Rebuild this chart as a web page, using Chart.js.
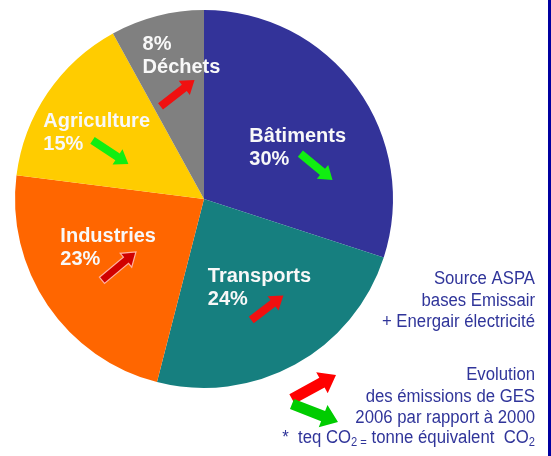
<!DOCTYPE html>
<html>
<head>
<meta charset="utf-8">
<script src="https://cdn.jsdelivr.net/npm/chart.js@4.4.1/dist/chart.umd.min.js"></script>
<style>
  html, body { margin: 0; padding: 0; background: #fff; }
  canvas { display: block; }
</style>
</head>
<body>
<canvas id="ges" width="551" height="456"></canvas>
<script>
// data
const sectors = ['Bâtiments', 'Transports', 'Industries', 'Agriculture', 'Déchets'];
const shares = [30, 24, 23, 15, 8];
// evolution 2006 vs 2000 : 'up' = rising (red), 'down' = falling (green)
const trends = ['down', 'up', 'up', 'down', 'up'];
const sourceLines = ['Source ASPA', 'bases Emissair', '+ Energair électricité'];
const evolutionLines = ['Evolution', 'des émissions de GES', '2006 par rapport à 2000'];

const sliceColors = ['#333399', '#167f7f', '#ff6600', '#ffcc00', '#808080'];

// label / arrow placement, as fractions of the pie radius from its centre
// lx,ly = start of first text line (baseline), ax..by = arrow tail -> head
const labelPlace = [
  { lx: 0.24, ly: -0.30, ax: 0.51, ay: -0.24, bx: 0.68, by: -0.10, pctFirst: false },
  { lx: 0.02, ly: 0.44, ax: 0.25, ay: 0.64, bx: 0.42, by: 0.51, pctFirst: false },
  { lx: -0.76, ly: 0.23, ax: -0.54, ay: 0.43, bx: -0.36, by: 0.28, pctFirst: false, dark: true },
  { lx: -0.85, ly: -0.38, ax: -0.59, ay: -0.31, bx: -0.40, by: -0.185, pctFirst: false },
  { lx: -0.325, ly: -0.79, ax: -0.23, ay: -0.49, bx: -0.05, by: -0.63, pctFirst: true }
];

function drawArrow(ctx, x1, y1, x2, y2, shaft, head, headLen, fill, stroke) {
  const ang = Math.atan2(y2 - y1, x2 - x1);
  const len = Math.hypot(x2 - x1, y2 - y1);
  ctx.save();
  ctx.translate(x1, y1);
  ctx.rotate(ang);
  ctx.beginPath();
  ctx.moveTo(0, -shaft / 2);
  ctx.lineTo(len - headLen, -shaft / 2);
  ctx.lineTo(len - headLen, -head / 2);
  ctx.lineTo(len, 0);
  ctx.lineTo(len - headLen, head / 2);
  ctx.lineTo(len - headLen, shaft / 2);
  ctx.lineTo(0, shaft / 2);
  ctx.closePath();
  ctx.fillStyle = fill;
  ctx.fill();
  if (stroke) {
    ctx.lineWidth = 1.2;
    ctx.strokeStyle = stroke;
    ctx.stroke();
  }
  ctx.restore();
}

// slightly condensed text, like the narrow font of the original
const SQUEEZE = 0.93;
function narrowText(ctx, t, xRight, y) {
  ctx.save();
  ctx.translate(xRight, y);
  ctx.scale(SQUEEZE, 1);
  ctx.fillText(t, 0, 0);
  ctx.restore();
}

const decorations = {
  id: 'decorations',
  afterDraw(chart) {
    const ctx = chart.ctx;
    const arc = chart.getDatasetMeta(0).data[0];
    const cx = arc.x, cy = arc.y, r = arc.outerRadius;

    ctx.save();
    // slice labels + trend arrows
    ctx.font = 'bold 20px "Liberation Sans", Arial, sans-serif';
    ctx.textAlign = 'left';
    ctx.textBaseline = 'alphabetic';
    sectors.forEach((name, i) => {
      const p = labelPlace[i];
      const x = cx + p.lx * r, y = cy + p.ly * r;
      const pct = shares[i] + '%';
      const lines = p.pctFirst ? [pct, name] : [name, pct];
      ctx.fillStyle = '#f8f8f8';
      ctx.fillText(lines[0], x, y);
      ctx.fillText(lines[1], x, y + 23);
      const up = trends[i] === 'up';
      const col = up ? (p.dark ? '#d00000' : '#f01010') : '#11ee11';
      drawArrow(ctx, cx + p.ax * r, cy + p.ay * r, cx + p.bx * r, cy + p.by * r,
        8, 18, 13, col, p.dark ? '#ffb0a0' : null);
    });

    // notes on the right
    const blue = '#30359a';
    const right = 535;
    ctx.fillStyle = blue;
    ctx.textAlign = 'right';
    ctx.font = '18px "Liberation Sans", Arial, sans-serif';
    sourceLines.forEach((t, i) => narrowText(ctx, t, right, 284 + i * 21.5));
    evolutionLines.forEach((t, i) => narrowText(ctx, t, right, 380 + i * 21.5));

    // legend arrows
    drawArrow(ctx, 292, 399, 336, 375, 11, 24, 16, '#ff0000', null);
    drawArrow(ctx, 292, 404, 338, 422, 11, 24, 16, '#00cc00', null);

    // footnote with subscripts
    const big = '18px "Liberation Sans", Arial, sans-serif';
    const small = '12px "Liberation Sans", Arial, sans-serif';
    const parts = [
      ['*  teq CO', big, 0], ['2 =', small, 3], [' tonne équivalent  CO', big, 0], ['2', small, 3]
    ];
    let w = 0;
    parts.forEach(([t, f]) => { ctx.font = f; w += ctx.measureText(t).width; });
    ctx.save();
    ctx.translate(right - w * SQUEEZE, 443);
    ctx.scale(SQUEEZE, 1);
    ctx.textAlign = 'left';
    let x = 0;
    parts.forEach(([t, f, dy]) => {
      ctx.font = f;
      ctx.fillText(t, x, dy);
      x += ctx.measureText(t).width;
    });
    ctx.restore();

    // frame edge on the right
    ctx.fillStyle = '#0000a0';
    ctx.fillRect(548, 0, 3, chart.height);
    ctx.restore();
  }
};

new Chart(document.getElementById('ges'), {
  type: 'pie',
  data: {
    labels: sectors,
    datasets: [{
      data: shares,
      backgroundColor: sliceColors,
      borderWidth: 0
    }]
  },
  options: {
    responsive: false,
    animation: false,
    devicePixelRatio: 1,
    layout: { padding: { left: 15, right: 158, top: 10, bottom: 68 } },
    plugins: {
      legend: { display: false },
      tooltip: { enabled: false }
    }
  },
  plugins: [decorations]
});
</script>
</body>
</html>
